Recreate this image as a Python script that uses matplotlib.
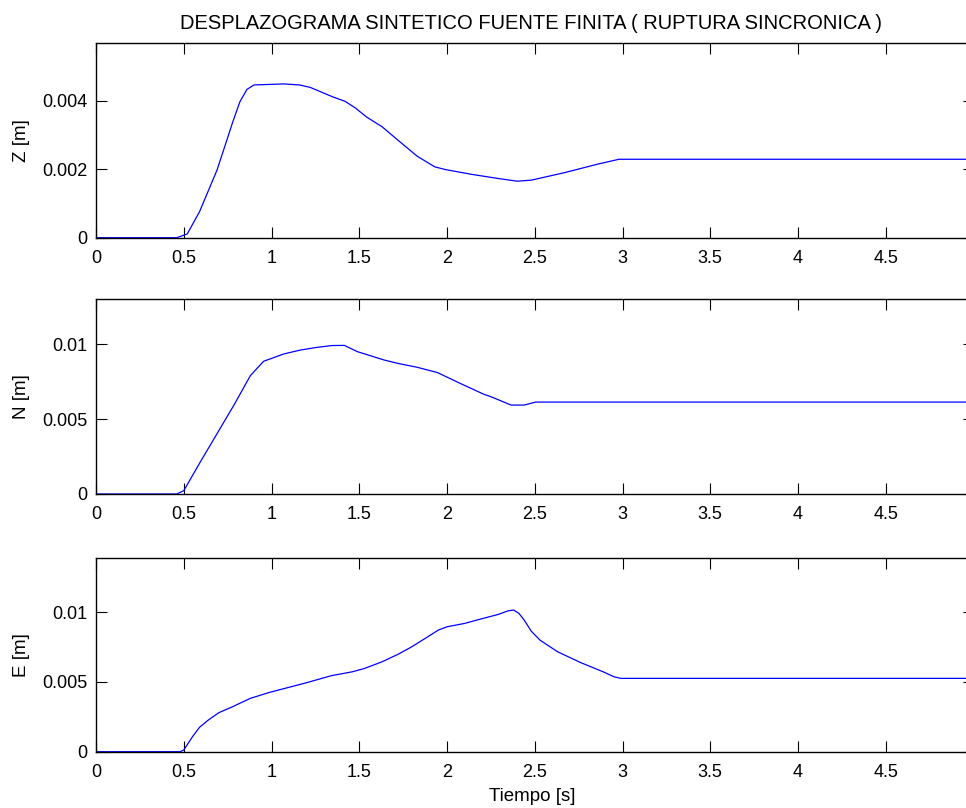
import numpy as np
import matplotlib
matplotlib.use('Agg')
import matplotlib.pyplot as plt

plt.rcParams['font.family'] = ['Liberation Sans', 'DejaVu Sans']

# vertical component
tz = [0, 0.46, 0.52, 0.59, 0.69, 0.78, 0.82, 0.86, 0.90, 1.07, 1.16, 1.22, 1.35,
      1.42, 1.48, 1.54, 1.63, 1.72, 1.83, 1.93, 1.99, 2.14, 2.29, 2.40, 2.48,
      2.67, 2.86, 2.98, 5.0]
z = [0, 0, 0.00011, 0.00076, 0.00198, 0.00339, 0.00397, 0.00433, 0.00446,
     0.00449, 0.00446, 0.00439, 0.00411, 0.00398, 0.00378, 0.00353, 0.00324,
     0.00285, 0.00238, 0.00207, 0.00199, 0.00185, 0.00173, 0.00165, 0.00168,
     0.00190, 0.00215, 0.00229, 0.00229]

# north component
tn = [0, 0.46, 0.50, 0.595, 0.69, 0.785, 0.88, 0.955, 1.07, 1.165, 1.26, 1.345,
      1.415, 1.49, 1.64, 1.72, 1.83, 1.945, 2.08, 2.21, 2.25, 2.365, 2.44,
      2.505, 5.0]
n = [0, 0, 0.00022, 0.00215, 0.00403, 0.00591, 0.0079, 0.00885, 0.00934,
     0.0096, 0.00978, 0.00990, 0.00991, 0.00949, 0.00894, 0.00871, 0.00845,
     0.00810, 0.00735, 0.00665, 0.00649, 0.00593, 0.00593, 0.00613, 0.00613]

# east component
te = [0, 0.48, 0.50, 0.55, 0.59, 0.64, 0.70, 0.77, 0.88, 0.99, 1.10, 1.20, 1.34,
      1.46, 1.53, 1.63, 1.72, 1.80, 1.89, 1.95, 2.00, 2.10, 2.19, 2.29, 2.35,
      2.38, 2.41, 2.44, 2.48, 2.53, 2.63, 2.76, 2.89, 2.95, 2.99, 5.0]
e = [0, 0, 0.00012, 0.00108, 0.00175, 0.00227, 0.0028, 0.00318, 0.00383,
     0.00426, 0.00462, 0.00495, 0.00545, 0.00573, 0.00597, 0.00645, 0.00698,
     0.00753, 0.00824, 0.00872, 0.00896, 0.0092, 0.00951, 0.00984, 0.01011,
     0.01016, 0.00992, 0.00944, 0.00865, 0.00800, 0.00717, 0.0064, 0.00573,
     0.00538, 0.00526, 0.00526]

xticks = [0, 0.5, 1, 1.5, 2, 2.5, 3, 3.5, 4, 4.5]
xticklabels = ['0', '0.5', '1', '1.5', '2', '2.5', '3', '3.5', '4', '4.5']

fig = plt.figure(figsize=(9.66, 8.08), dpi=100)

W, H = 966.0, 808.0
left, width = 96 / W, 877.5 / W
panels = [
    (tz, z, 'Z [m]', 237.7, 194.7, 0.005685, [0, 0.002, 0.004], ['0', '0.002', '0.004']),
    (tn, n, 'N [m]', 494.0, 194.5, 0.01297, [0, 0.005, 0.01], ['0', '0.005', '0.01']),
    (te, e, 'E [m]', 751.7, 194.2, 0.01393, [0, 0.005, 0.01], ['0', '0.005', '0.01']),
]

axes = []
for t, y, lab, bot, h, ytop, yt, ytl in panels:
    ax = fig.add_axes([left, (H - bot) / H, width, h / H])
    ax.plot(t, y, color='#0000ff', lw=0.9)
    ax.set_xlim(0, 5)
    ax.set_ylim(0, ytop)
    ax.set_xticks(xticks)
    ax.set_xticklabels(xticklabels)
    ax.set_yticks(yt)
    ax.set_yticklabels(ytl)
    ax.tick_params(direction='in', length=8, width=0.8, labelsize=13,
                   top=True, right=True)
    ax.tick_params(axis='x', pad=8.5)
    ax.tick_params(axis='y', pad=6)
    for s in ax.spines.values():
        s.set_linewidth(1.0)
    ax.set_ylabel(lab, fontsize=13.5)
    ax.yaxis.set_label_coords(-0.075, 0.5)
    axes.append(ax)

axes[0].set_title('DESPLAZOGRAMA SINTETICO FUENTE FINITA ( RUPTURA SINCRONICA )',
                  fontsize=14.5, pad=10, x=(531 - 96) / 877.5)
axes[2].set_xlabel('Tiempo [s]', fontsize=13.5)
axes[2].xaxis.set_label_coords((532 - 96) / 877.5, -0.185)

fig.savefig('out.png', dpi=100)
